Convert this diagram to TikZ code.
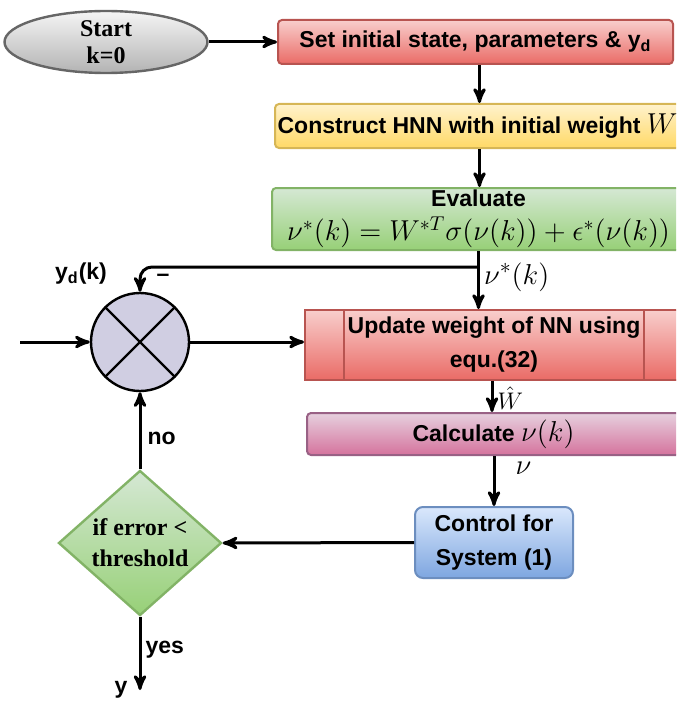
\documentclass[tikz,border=0pt]{standalone}
\usepackage{amsmath}
\usepackage{fontspec}
\setmainfont{Liberation Serif}
\setsansfont{Liberation Sans}
\usetikzlibrary{arrows,shapes.geometric}

\definecolor{redtop}{HTML}{F8CECC}
\definecolor{redbot}{HTML}{EA6B66}
\definecolor{redline}{HTML}{B85450}
\definecolor{yeltop}{HTML}{FFF2CC}
\definecolor{yelbot}{HTML}{FFD966}
\definecolor{yelline}{HTML}{D6B656}
\definecolor{grntop}{HTML}{D5E8D4}
\definecolor{grnbot}{HTML}{97D077}
\definecolor{grnline}{HTML}{82B366}
\definecolor{pnktop}{HTML}{E6D0DE}
\definecolor{pnkbot}{HTML}{D5739D}
\definecolor{pnkline}{HTML}{996185}
\definecolor{blutop}{HTML}{DAE8FC}
\definecolor{blubot}{HTML}{7EA6E0}
\definecolor{bluline}{HTML}{6C8EBF}
\definecolor{grytop}{HTML}{F5F5F5}
\definecolor{grybot}{HTML}{B3B3B3}
\definecolor{gryline}{HTML}{666666}
\definecolor{sumfill}{HTML}{D0CEE2}

\begin{document}
\begin{tikzpicture}[x=0.5pt,y=-0.5pt,>=stealth',line width=1.5pt,
      box/.style={rectangle,rounded corners=2pt,line width=1pt,inner sep=0pt,
        align=center,font=\sffamily\bfseries\fontsize{11.5}{17}\selectfont},
      redbox/.style={box,draw=redline,top color=redtop,bottom color=redbot},
      yelbox/.style={box,draw=yelline,top color=yeltop,bottom color=yelbot},
      grnbox/.style={box,draw=grnline,top color=grntop,bottom color=grnbot},
      pnkbox/.style={box,draw=pnkline,top color=pnktop,bottom color=pnkbot},
      blubox/.style={box,draw=bluline,top color=blutop,bottom color=blubot,rounded corners=4pt},
      lbl/.style={inner sep=1pt,font=\sffamily\bfseries\fontsize{11.5}{14}\selectfont},
      mlbl/.style={right,inner sep=2pt,font=\fontsize{15}{16}\selectfont}]
      \useasboundingbox (0,0) rectangle (676,701);
      \clip (0,0) rectangle (676,701);

      \node[ellipse,draw=gryline,line width=1.2pt,top color=grytop,bottom color=grybot,
        minimum width=101.5pt,minimum height=31pt,inner sep=0pt,align=center,
        font=\bfseries\fontsize{12}{13.5}\selectfont] (start) at (106,42) {Start\\k=0};
      \node[redbox,minimum width=197.5pt,minimum height=22pt] (init) at (475.5,42)
        {Set initial state, parameters \& y\textsubscript{d}};
      \node[yelbox,minimum width=202.5pt,minimum height=22pt] (hnn) at (477.5,126)
        {Construct HNN with initial weight {\fontsize{14}{14}\selectfont$W$}};
      \node[grnbox,minimum width=206.5pt,minimum height=31pt] (eval) at (478.5,219)
        {Evaluate\\ {\fontsize{14}{16}\selectfont$\nu^*(k) = W^{*T}\sigma(\nu(k)) + \epsilon^*(\nu(k))$}};
      \node[redbox,rounded corners=0pt,minimum width=189pt,minimum height=35pt] (update) at (494,345)
        {Update weight of NN using\\ equ.(32)};
      \draw[redline,line width=1pt] ([xshift=20pt]update.north west) -- ([xshift=20pt]update.south west)
        ([xshift=-20pt]update.north east) -- ([xshift=-20pt]update.south east);
      \node[pnkbox,minimum width=186.5pt,minimum height=21pt] (calc) at (493.5,434)
        {Calculate {\fontsize{14}{14}\selectfont$\nu(k)$}};
      \node[blubox,minimum width=79pt,minimum height=35.5pt] (ctrl) at (494,542.5)
        {Control for\\ System (1)};
      \node[diamond,draw=grnline,line width=1.2pt,top color=grntop,bottom color=grnbot,
        minimum width=81.5pt,minimum height=72.5pt,inner sep=0pt,align=center,
        font=\bfseries\fontsize{12}{15.5}\selectfont] (check) at (140,543) {if error <\\ threshold};
      \node[circle,draw,line width=1.2pt,fill=sumfill,minimum size=49pt,inner sep=0pt] (sum) at (140,342) {};
      \draw[line width=1.2pt] (sum.north west) -- (sum.south east) (sum.north east) -- (sum.south west);

      \coordinate (in) at (20,342);
      \coordinate (out) at (140,690);
      \coordinate (fb) at ([yshift=-8pt]eval.south);

      \node[lbl] (ydk) at (81,274) {y\textsubscript{d}(k)};
      \node[lbl] (minus) at (163,278) {--};
      \node[lbl] (yout) at (121,690) {y};

      \draw[->] (start.east) -- (init.west);
      \draw[->] ([xshift=2pt]init.south) -- ([xshift=2pt]init.south |- hnn.north);
      \draw[->] ([xshift=1pt]hnn.south) -- ([xshift=1pt]hnn.south |- eval.north);
      \draw[->] (eval.south) -- node[mlbl,pos=0.45] {$\nu^*(k)$} (eval.south |- update.north);
      \draw[->,rounded corners=6pt] (fb) -| (sum.north);
      \draw[->] (in) -- (sum.west);
      \draw[->] (sum.east) -- (sum.east -| update.west);
      \draw[->] ([xshift=-1pt]update.south) -- node[right,pos=0.55,inner sep=2pt,font=\fontsize{12}{12}\selectfont] {$\hat{W}$} ([xshift=-1pt]update.south |- calc.north);
      \draw[->] (ctrl.north |- calc.south) -- node[mlbl,pos=0.25,inner sep=10pt] {$\nu$} (ctrl.north);
      \draw[->] (ctrl.west) -- (check.east);
      \draw[->] (check.north) -- node[lbl,right,pos=0.4,inner sep=3pt] {no} (sum.south);
      \draw[->] (check.south) -- node[lbl,right,pos=0.45,inner sep=2pt] {yes} (out);
\end{tikzpicture}
\end{document}
